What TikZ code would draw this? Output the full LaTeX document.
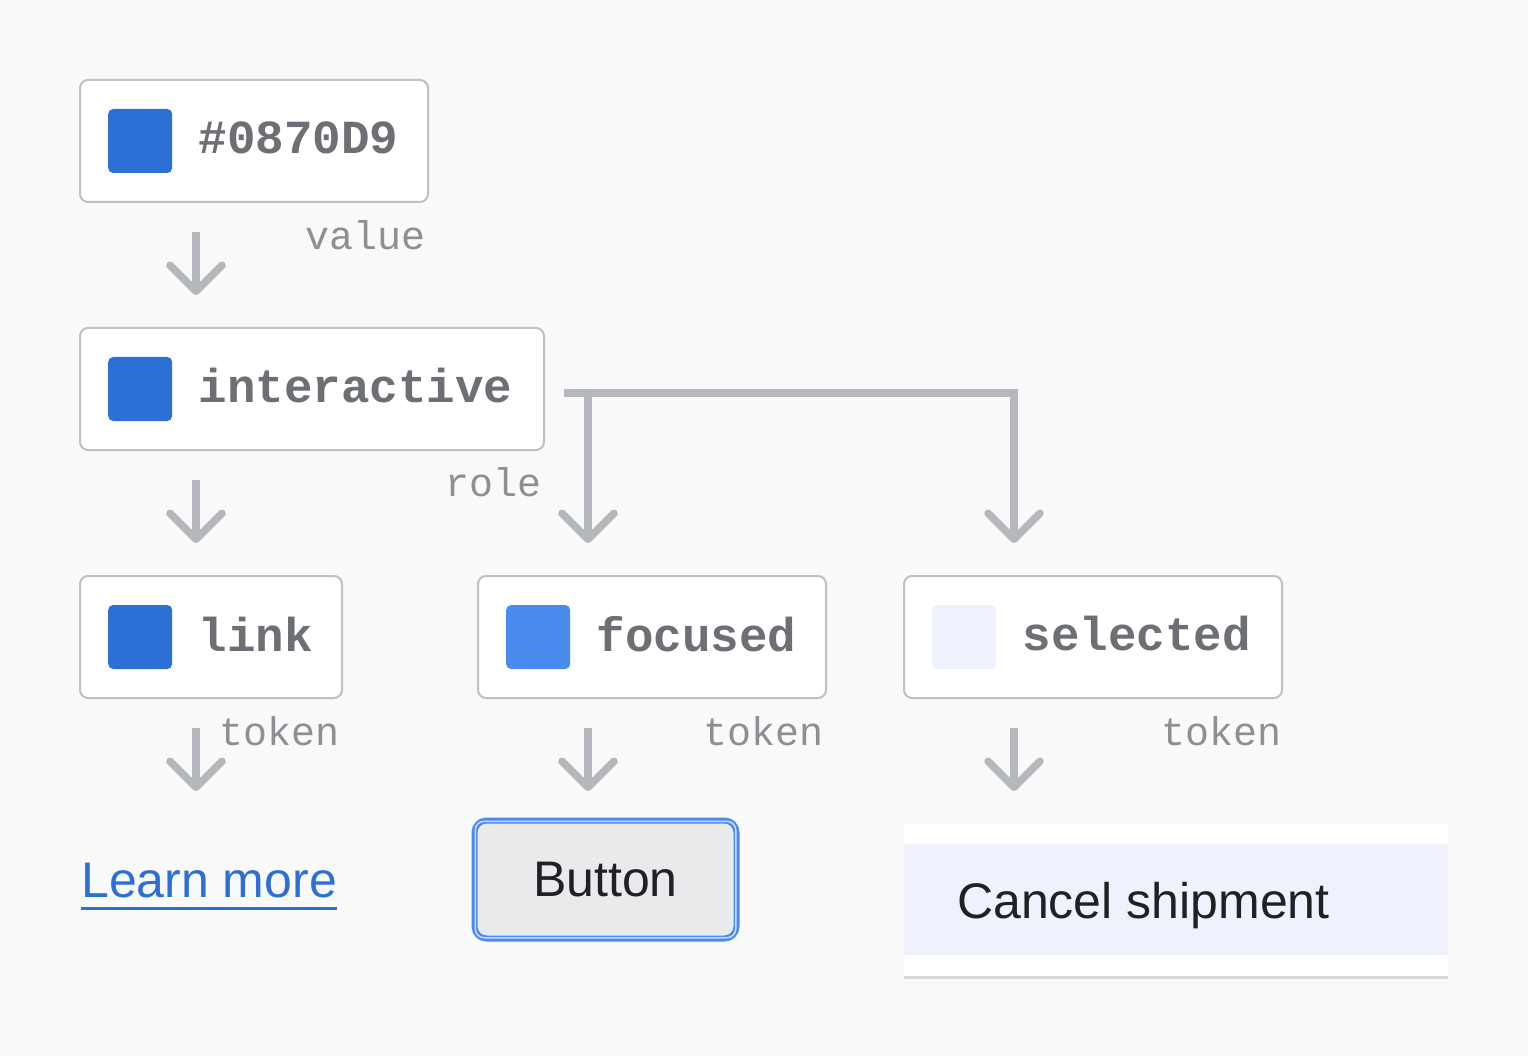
\documentclass[tikz,border=0pt]{standalone}
\usepackage{fontspec}
\usetikzlibrary{positioning,arrows.meta,shadows}
\newfontfamily\codefont{Liberation Mono}
\newfontfamily\uifont{Liberation Sans}
\definecolor{canvas}{HTML}{F9F9F9}
\definecolor{rim}{HTML}{BDC0C4}
\definecolor{wire}{HTML}{B4B8BC}
\definecolor{codegray}{HTML}{6C6F73}
\definecolor{taggray}{HTML}{8C8F93}
\definecolor{brand}{HTML}{2D70D5}
\definecolor{brandlight}{HTML}{4A8BF0}
\definecolor{ringblue}{HTML}{CBD8F4}
\definecolor{tint}{HTML}{EFF2FD}
\definecolor{ink}{HTML}{202124}
\definecolor{chip}{HTML}{E9EAEC}
\tikzstyle{tokbox} = [rectangle, draw=rim, line width=2pt, fill=white, rounded corners=8pt, minimum height=122pt, inner sep=0pt, anchor=north west]
\tikzstyle{swatch} = [rectangle, rounded corners=5pt, minimum size=64pt, inner sep=0pt]
\tikzstyle{code} = [inner sep=0pt, yshift=3pt, text=codegray, font=\codefont\bfseries\fontsize{47.5}{52}\selectfont]
\tikzstyle{tag} = [inner sep=0pt, anchor=base east, text=taggray, font=\codefont\fontsize{40}{44}\selectfont]
\tikzstyle{flow} = [draw=wire, line width=7.5pt, -{Straight Barb[length=26pt,width=52pt,round]}]
\tikzstyle{ui} = [inner sep=0pt, text=ink, font=\uifont\fontsize{50}{55}\selectfont]

\begin{document}
\begin{tikzpicture}[x=1pt, y=-1pt]
    \fill[canvas] (0,0) rectangle (1528,1056);
    \useasboundingbox (0,0) rectangle (1528,1056);

    % token boxes
    \node[tokbox, minimum width=348pt] (hexbox) at (79,79) {};
    \node[swatch, fill=brand, right=29pt of hexbox.west] (hexsw) {};
    \node[code, right=26pt of hexsw] (hex) {\#0870D9};

    \node[tokbox, minimum width=464pt] (actbox) at (79,327) {};
    \node[swatch, fill=brand, right=29pt of actbox.west] (actsw) {};
    \node[code, right=26pt of actsw] (act) {interactive};

    \node[tokbox, minimum width=262pt] (linkbox) at (79,575) {};
    \node[swatch, fill=brand, right=29pt of linkbox.west] (linksw) {};
    \node[code, right=26pt of linksw] (link) {link};

    \node[tokbox, minimum width=348pt] (focbox) at (477,575) {};
    \node[swatch, fill=brandlight, right=29pt of focbox.west] (focsw) {};
    \node[code, right=26pt of focsw] (foc) {focused};

    \node[tokbox, minimum width=378pt] (selbox) at (903,575) {};
    \node[swatch, fill=tint, right=29pt of selbox.west] (selsw) {};
    \node[code, right=26pt of selsw] (sel) {selected};

    % labels
    \node[tag] (valtag) at (426,250) {value};
    \node[tag] (roletag) at (542,496) {role};
    \node[tag] (linktag) at (340,745) {token};
    \node[tag] (foctag) at (824,745) {token};
    \node[tag] (seltag) at (1282,745) {token};

    % components
    \node[ui, text=brand, anchor=base west] (learn) at (81,897) {Learn more};
    \draw[brand, line width=3pt] ([yshift=-11pt]learn.base west) -- ([yshift=-11pt]learn.base east);

    \node[ui, draw=brandlight, line width=6pt, fill=chip, rounded corners=12pt, minimum width=262pt, minimum height=118pt] (btn) at (605.5,879.5) {Button};
    \draw[ringblue, line width=1.5pt, rounded corners=9pt] ([shift={(3.75pt,-3.75pt)}]btn.north west) rectangle ([shift={(-3.75pt,3.75pt)}]btn.south east);

    \node[fill=white, inner sep=0pt, minimum width=544pt, minimum height=152pt, anchor=north west, drop shadow={shadow xshift=0pt, shadow yshift=-2.5pt, opacity=0.28}] (menu) at (904,824) {};
    \node[fill=tint, inner sep=0pt, minimum width=544pt, minimum height=111pt, anchor=north west] (band) at (904,844) {};
    \node[ui, anchor=base west] (cancel) at (957,918) {Cancel shipment};

    % connectors
    \coordinate (v1a) at (196,232);
    \coordinate (v1b) at (196,295);
    \coordinate (v2a) at (196,480);
    \coordinate (v2b) at (196,543);
    \coordinate (split) at (564,393);
    \coordinate (fork) at (588,393);
    \coordinate (focin) at (588,543);
    \coordinate (selin) at (1014,543);
    \coordinate (v3a) at (196,728);
    \coordinate (v3b) at (196,791);
    \coordinate (v4a) at (588,728);
    \coordinate (v4b) at (588,791);
    \coordinate (v5a) at (1014,728);
    \coordinate (v5b) at (1014,791);

    \draw[flow] (v1a) -- (v1b);
    \draw[flow] (v2a) -- (v2b);
    \draw[flow] (split) -| (selin);
    \draw[flow] (fork) -- (focin);
    \draw[flow] (v3a) -- (v3b);
    \draw[flow] (v4a) -- (v4b);
    \draw[flow] (v5a) -- (v5b);
\end{tikzpicture}
\end{document}
